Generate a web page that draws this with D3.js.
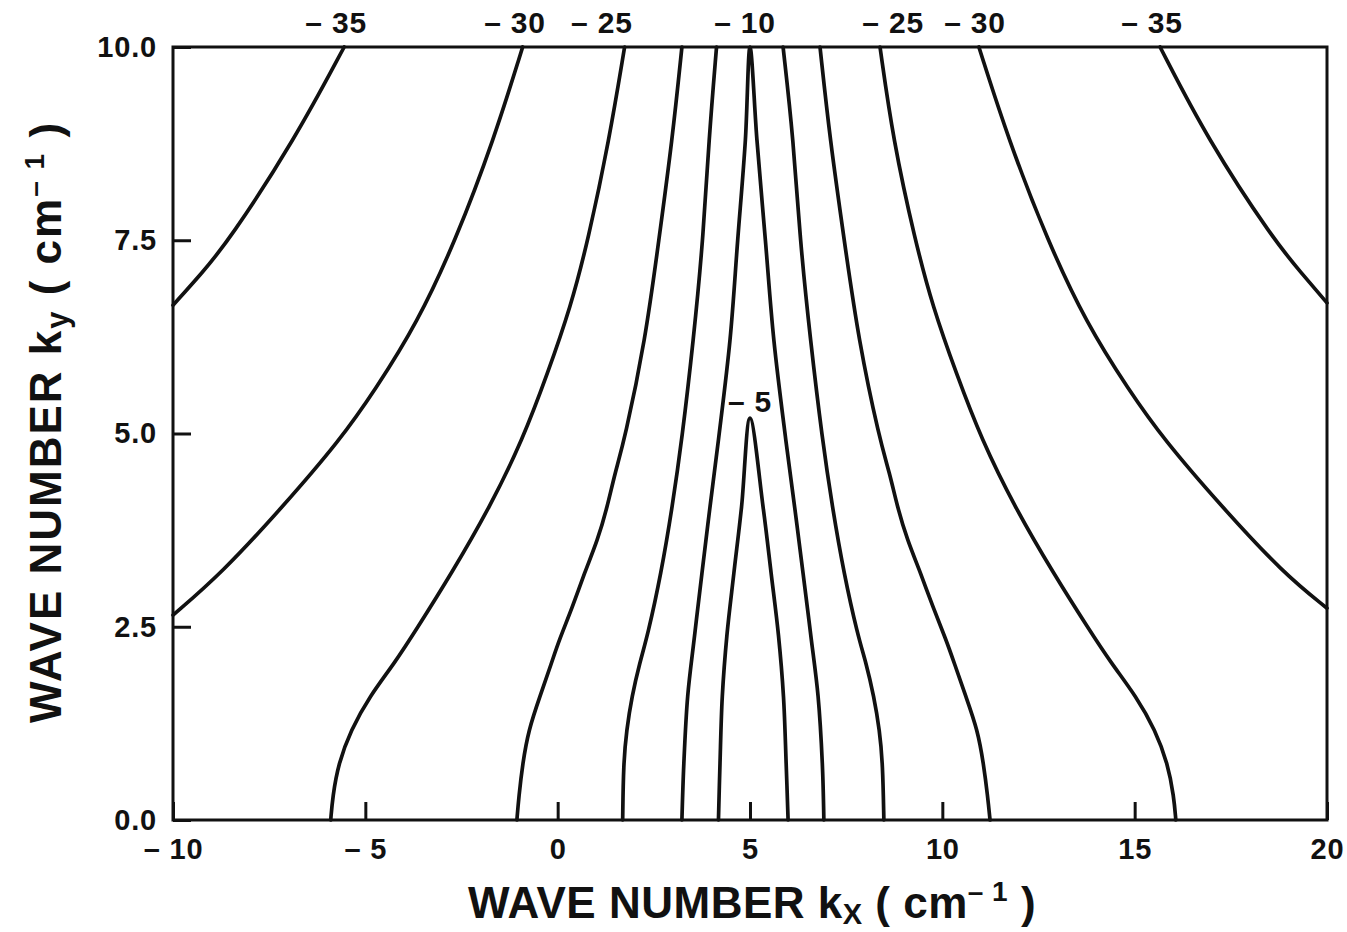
<!DOCTYPE html>
<html lang="en">
<head>
    <meta charset="UTF-8">
    <title>Wave number contours</title>
    <script src="https://d3js.org/d3.v7.min.js"></script>
    <style>
        body { margin: 0; background: #fff; }
        svg { display: block; font-family: "Liberation Sans", Arial, sans-serif; font-weight: bold; }
        .contour { fill: none; stroke: #111; stroke-width: 3.7px; stroke-linejoin: round; stroke-linecap: round; }
        .tick line { stroke: #111; stroke-width: 3px; }
        .tick text { font-size: 29px; fill: #111; font-weight: bold; letter-spacing: 0.8px; }
        .clabel { font-size: 30px; fill: #111; letter-spacing: 0.8px; }
        .axis-title { font-size: 44px; fill: #111; letter-spacing: 0.5px; }
    </style>
</head>
<body>
    <div id="chart"></div>

    <script>
        // Axis ticks
        const xTicks = [-10, -5, 0, 5, 10, 15, 20];
        const yTicks = [0, 2.5, 5, 7.5, 10];

        // Contour lines, [kx, ky] points
        const c35L = [[-5.55, 10], [-6.84, 8.8], [-8.54, 7.5], [-9.24, 7.08], [-10, 6.66]];
        const c30L = [[-0.91, 10], [-1.66, 8.8], [-2.65, 7.5], [-3.65, 6.43], [-4.75, 5.56], [-5.65, 4.92],
                      [-7.15, 4.05], [-8.74, 3.19], [-10, 2.65]];
        const c25L = [[1.74, 10], [1.34, 8.8], [0.79, 7.5], [0.34, 6.64], [-0.26, 5.78], [-0.91, 4.92],
                      [-1.76, 4.05], [-2.76, 3.19], [-3.68, 2.46], [-4.24, 2.03], [-4.89, 1.6], [-5.38, 1.16],
                      [-5.7, 0.73], [-5.85, 0.3], [-5.9, 0]];
        const c20L = [[3.23, 10], [2.98, 8.8], [2.63, 7.5], [2.28, 6.21], [1.74, 4.92], [1.49, 4.49],
                      [1.29, 4.05], [1.04, 3.62], [0.69, 3.19], [0.39, 2.76], [0.04, 2.33], [-0.16, 2.03],
                      [-0.46, 1.6], [-0.76, 1.16], [-0.91, 0.73], [-1.01, 0.3], [-1.06, 0]];
        const c15L = [[4.13, 10], [3.93, 8.8], [3.78, 7.5], [3.53, 6.21], [3.23, 4.92], [2.98, 4.05],
                      [2.69, 3.19], [2.34, 2.39], [2.13, 2.03], [1.93, 1.6], [1.79, 1.16], [1.71, 0.73], [1.69, 0]];
        const c10 = [[3.23, 0], [3.28, 0.73], [3.38, 1.6], [3.56, 2.39], [3.75, 3.19], [3.96, 4.05], [4.18, 4.92],
                     [4.48, 6.21], [4.68, 7.5], [4.88, 8.8], [5.0, 10],
                     [5.18, 8.8], [5.4, 7.5], [5.62, 6.21], [5.93, 4.92], [6.16, 4.05], [6.38, 3.19],
                     [6.58, 2.39], [6.77, 1.6], [6.88, 0.73], [6.92, 0]];
        const c5 = [[4.18, 0], [4.22, 0.73], [4.28, 1.6], [4.4, 2.39], [4.58, 3.19], [4.78, 4.05], [5.0, 5.2],
                    [5.34, 4.05], [5.55, 3.19], [5.74, 2.39], [5.87, 1.6], [5.94, 0.73], [5.99, 0]];
        const c15R = [[5.86, 10], [6.13, 8.8], [6.3, 7.5], [6.57, 6.21], [6.88, 4.92], [7.14, 4.05],
                      [7.44, 3.19], [7.8, 2.39], [8.02, 2.03], [8.22, 1.6], [8.37, 1.16], [8.45, 0.73], [8.48, 0]];
        const c20R = [[6.82, 10], [7.08, 8.8], [7.45, 7.5], [7.82, 6.21], [8.37, 4.92], [8.63, 4.49],
                      [8.83, 4.05], [9.09, 3.62], [9.44, 3.19], [9.75, 2.76], [10.1, 2.33], [10.31, 2.03],
                      [10.61, 1.6], [10.92, 1.16], [11.07, 0.73], [11.18, 0.3], [11.24, 0]];
        const c25R = [[8.38, 10], [8.72, 8.8], [9.29, 7.5], [9.75, 6.64], [10.36, 5.78], [11.02, 4.92],
                      [11.88, 4.05], [12.89, 3.19], [13.82, 2.46], [14.39, 2.03], [15.04, 1.6], [15.54, 1.16],
                      [15.86, 0.73], [16.02, 0.3], [16.07, 0]];
        const c30R = [[10.95, 10], [11.72, 8.8], [12.73, 7.5], [13.74, 6.43], [14.85, 5.56], [15.76, 4.92],
                      [17.27, 4.05], [18.87, 3.19], [20, 2.74]];
        const c35R = [[15.66, 10], [16.9, 8.8], [18.62, 7.5], [19.33, 7.08], [20, 6.69]];

        // open contours (smoothed) and the two peaked ones that need a sharp tip
        const contours = [c35L, c30L, c25L, c20L, c15L, c15R, c20R, c25R, c30R, c35R];
        const peaked = [c10, c5];

        // Contour labels: text and kx where each sits above the top edge
        const topLabels = ["\u2013 35", "\u2013 30", "\u2013 25", "\u2013 10", "\u2013 25", "\u2013 30", "\u2013 35"];
        const topLabelKx = [-5.76, -1.11, 1.15, 4.87, 8.72, 10.85, 15.45];
        const peakLabel = "\u2013 5";
        const peakLabelAt = [5.0, 5.28];

        const width = 1347, height = 932;
        const plot = { left: 173, right: 1327, top: 47, bottom: 820 };

        const x = d3.scaleLinear().domain([-10, 20]).range([plot.left, plot.right]);
        const y = d3.scaleLinear().domain([0, 10]).range([plot.bottom, plot.top]);

        const svg = d3.select("#chart").append("svg")
            .attr("width", width)
            .attr("height", height);

        const fmtX = d => d < 0 ? "\u2013 " + Math.abs(d) : String(d);
        const fmtY = d3.format(".1f");

        // X axis (ticks pointing into the plot)
        const xAxis = svg.append("g")
            .attr("transform", `translate(0,${plot.bottom})`)
            .call(d3.axisBottom(x).tickValues(xTicks).tickSize(-18).tickPadding(18).tickFormat(fmtX));
        xAxis.select(".domain").remove();

        // Y axis
        const yAxis = svg.append("g")
            .attr("transform", `translate(${plot.left},0)`)
            .call(d3.axisLeft(y).tickValues(yTicks).tickSize(-18).tickPadding(16).tickFormat(fmtY));
        yAxis.select(".domain").remove();

        // Frame
        svg.append("rect")
            .attr("x", plot.left)
            .attr("y", plot.top)
            .attr("width", plot.right - plot.left)
            .attr("height", plot.bottom - plot.top)
            .attr("fill", "none")
            .attr("stroke", "#111")
            .attr("stroke-width", 3);

        // Contours
        const smoothLine = d3.line()
            .x(d => x(d[0]))
            .y(d => y(d[1]))
            .curve(d3.curveBasis);

        const tipLine = d3.line()
            .x(d => x(d[0]))
            .y(d => y(d[1]))
            .curve(d3.curveCatmullRom.alpha(0.5));

        svg.selectAll("path.contour-open")
            .data(contours)
            .enter()
            .append("path")
            .attr("class", "contour contour-open")
            .attr("d", smoothLine);

        svg.selectAll("path.contour-peak")
            .data(peaked)
            .enter()
            .append("path")
            .attr("class", "contour contour-peak")
            .attr("d", tipLine);

        // Labels
        svg.selectAll("text.clabel")
            .data(topLabels)
            .enter()
            .append("text")
            .attr("class", "clabel")
            .attr("text-anchor", "middle")
            .attr("x", (d, i) => x(topLabelKx[i]))
            .attr("y", plot.top - 14)
            .text(d => d);

        svg.append("text")
            .attr("class", "clabel")
            .attr("text-anchor", "middle")
            .attr("x", x(peakLabelAt[0]))
            .attr("y", y(peakLabelAt[1]))
            .text(peakLabel);

        // Axis titles
        const xt = svg.append("text")
            .attr("class", "axis-title")
            .attr("text-anchor", "middle")
            .attr("x", 752)
            .attr("y", 918);
        xt.append("tspan").text("WAVE NUMBER k");
        xt.append("tspan").attr("font-size", "29px").attr("dy", 6).text("X");
        xt.append("tspan").attr("dy", -6).text(" ( cm");
        xt.append("tspan").attr("font-size", "28px").attr("dy", -17).text("\u2013 1");
        xt.append("tspan").attr("dy", 17).text(" )");

        const yt = svg.append("text")
            .attr("class", "axis-title")
            .attr("text-anchor", "middle")
            .style("letter-spacing", "2px")
            .attr("transform", `translate(61,422) rotate(-90)`);
        yt.append("tspan").text("WAVE NUMBER k");
        yt.append("tspan").attr("font-size", "31px").attr("dy", 7).text("y");
        yt.append("tspan").attr("dy", -7).text(" ( cm");
        yt.append("tspan").attr("font-size", "28px").attr("dy", -17).text("\u2013 1");
        yt.append("tspan").attr("dy", 17).text(" )");
    </script>
</body>
</html>
